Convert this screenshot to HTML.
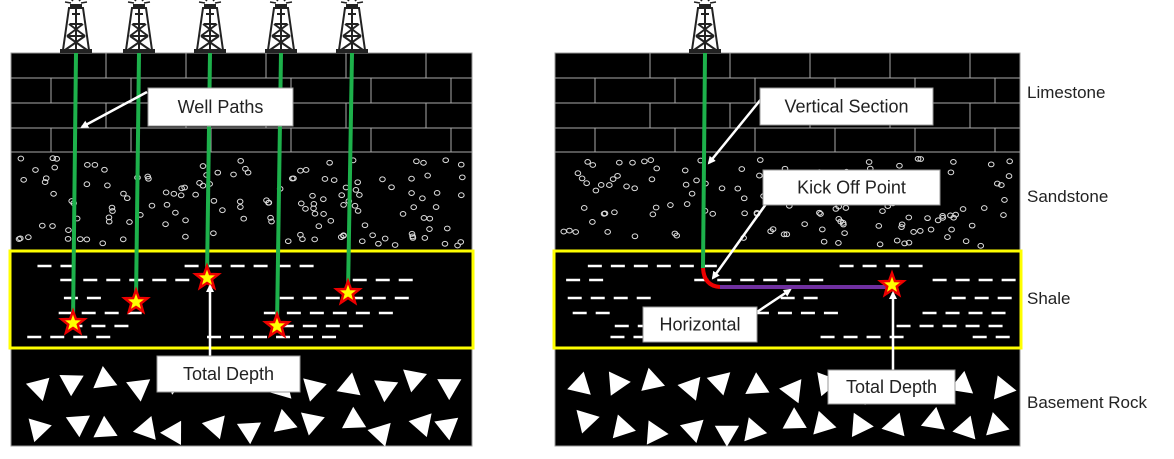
<!DOCTYPE html>
<html><head><meta charset="utf-8"><style>
html,body{margin:0;padding:0;background:#fff}
svg{display:block}
text{font-family:"Liberation Sans",sans-serif;fill:#222}
</style></head><body>
<svg id="s" width="1174" height="459" viewBox="0 0 1174 459">
<defs>
<marker id="ah" markerWidth="8" markerHeight="8" refX="6" refY="4" orient="auto" markerUnits="userSpaceOnUse"><path d="M0,0 L8,4 L0,8 z" fill="#fff"/></marker>
<g id="derrick">
<path d="M-7,-46 L7,-46 L13,-4 L-13,-4 z M-4,-40 L4,-40 M-6,-30 L6,-30 M-9,-18 L9,-18 M-7,-30 L9,-18 M7,-30 L-9,-18 M-9,-18 L11,-4 M9,-18 L-11,-4 M0,-46 L0,-4" stroke="#222" stroke-width="2" fill="none"/>
<rect x="-16" y="-5" width="32" height="4" fill="#222"/>
<rect x="-6" y="-50" width="12" height="4" fill="#222"/>
<path d="M-3,-53 L-8,-58 M0,-54 L0,-60 M3,-53 L8,-58 M-5,-51 L-11,-52 M5,-51 L11,-52" stroke="#222" stroke-width="1.5"/>
</g>
</defs>
<g id="panels"></g>
<g id="over"></g>
<text x="1027" y="98" font-size="17">Limestone</text>
<text x="1027" y="202" font-size="17">Sandstone</text>
<text x="1027" y="304" font-size="17">Shale</text>
<text x="1027" y="408" font-size="17">Basement Rock</text>
</svg>
<script>
const NS="http://www.w3.org/2000/svg";
const P=document.getElementById('panels'), O=document.getElementById('over');
function mk(t,a,par){const e=document.createElementNS(NS,t);for(const k in a)e.setAttribute(k,a[k]);(par||P).appendChild(e);return e;}
let seed=7;function rnd(){seed=(seed*16807)%2147483647;return seed/2147483647;}
function panel(x0,x1,name){
  const g=mk('g',{});
  
  
  const w=x1-x0;
  mk('rect',{x:x0,y:53,width:w,height:393,fill:'#000',stroke:'#999','stroke-width':1},g);
  const rows=[53,78,103,128,152];
  for(let r=0;r<4;r++){
    mk('line',{x1:x0,x2:x1,y1:rows[r+1],y2:rows[r+1],stroke:'#aaa','stroke-width':1},g);
    const off=r%2?40:0;
    for(let x=x0+off+(r%2?0:95);x<x1;x+=80) mk('line',{x1:x,x2:x,y1:rows[r],y2:rows[r+1],stroke:'#aaa','stroke-width':1},g);
  }
  for(let i=0;i<140;i++){mk('ellipse',{cx:x0+8+rnd()*(w-16),cy:158+rnd()*88,rx:2.8,ry:2.4,fill:'none',stroke:'#ddd','stroke-width':1},g);}
  const ly=[266,280,298,313,326,337];
  for(let k=0;k<ly.length;k++){
    let x=x0+5+rnd()*60;
    while(x<x1-20){const n=2+Math.floor(rnd()*5);for(let j=0;j<n&&x<x1-15;j++){mk('line',{x1:x,x2:x+14,y1:ly[k],y2:ly[k],stroke:'#fff','stroke-width':2.5},g);x+=23;}x+=60+rnd()*120;}
  }
  mk('rect',{x:x0-1,y:251,width:w+2,height:97,fill:'none',stroke:'#ff0','stroke-width':3},g);
  for(let i=0;i<26;i++){const cx=x0+25+(i%13)*(w-50)/12+rnd()*10,cy=(i<13?378:420)+rnd()*14,a=rnd()*6.28,s=14;
    let d='';for(let j=0;j<3;j++){const t=a+j*2.094;d+=(j?'L':'M')+(cx+s*Math.cos(t)).toFixed(1)+','+(cy+s*Math.sin(t)).toFixed(1);}
    mk('path',{d:d+'z',fill:'#fff'},g);}
}
panel(11,472,'left-panel');panel(555,1020,'right-panel');
function star(x,y){const e=mk('path',{d:(()=>{let d='';for(let i=0;i<10;i++){const r=i%2?5:12,t=-Math.PI/2+i*Math.PI/5;d+=(i?'L':'M')+(x+r*Math.cos(t)).toFixed(1)+','+(y+r*Math.sin(t)).toFixed(1);}return d+'z';})(),fill:'#ff0',stroke:'#e00','stroke-width':2.5},O);
 }
function der(x){const u=mk('use',{href:'#derrick',x:x,y:54},O);}
const wells=[[76,73,323],[139,136,302],[210,207,278],[281,277,326],[352,348,293]];
wells.forEach(w=>{der(w[0]);const l=mk('line',{x1:w[0],y1:53,x2:w[1],y2:w[2],stroke:'#1db14b','stroke-width':4},O);star(w[1],w[2]);});
der(705);
mk('path',{d:'M705,53 L703,268',stroke:'#1db14b','stroke-width':4,fill:'none'},O);
mk('path',{d:'M703,268 Q704,286 720,287',stroke:'#e00','stroke-width':4,fill:'none'},O);
mk('line',{x1:720,y1:287,x2:890,y2:287,stroke:'#7030a0','stroke-width':4},O);
star(892,285);
function label(x,y,w,h,t,name){const r=mk('rect',{x:x,y:y,width:w,height:h,fill:'#fff',stroke:'#999','stroke-width':1},O);
 
 const tx=mk('text',{x:x+w/2,y:y+h/2+6,'text-anchor':'middle','font-size':18},O);tx.textContent=t;}
function arrow(a,b,c,d){mk('line',{x1:a,y1:b,x2:c,y2:d,stroke:'#fff','stroke-width':2.5,'marker-end':'url(#ah)'},O);}
arrow(147,92,82,127);label(148,88,145,38,'Well Paths','well-paths-label');
arrow(210,356,210,286);label(157,356,143,36,'Total Depth','total-depth-label-left');
arrow(762,98,709,163);label(760,88,173,37,'Vertical Section','vertical-section-label');
arrow(766,204,713,278);label(763,170,177,35,'Kick Off Point','kick-off-point-label');
arrow(757,312,790,290);label(643,307,114,35,'Horizontal','horizontal-label');
arrow(893,370,893,293);label(828,370,127,34,'Total Depth','total-depth-label-right');
</script>
</body></html>
